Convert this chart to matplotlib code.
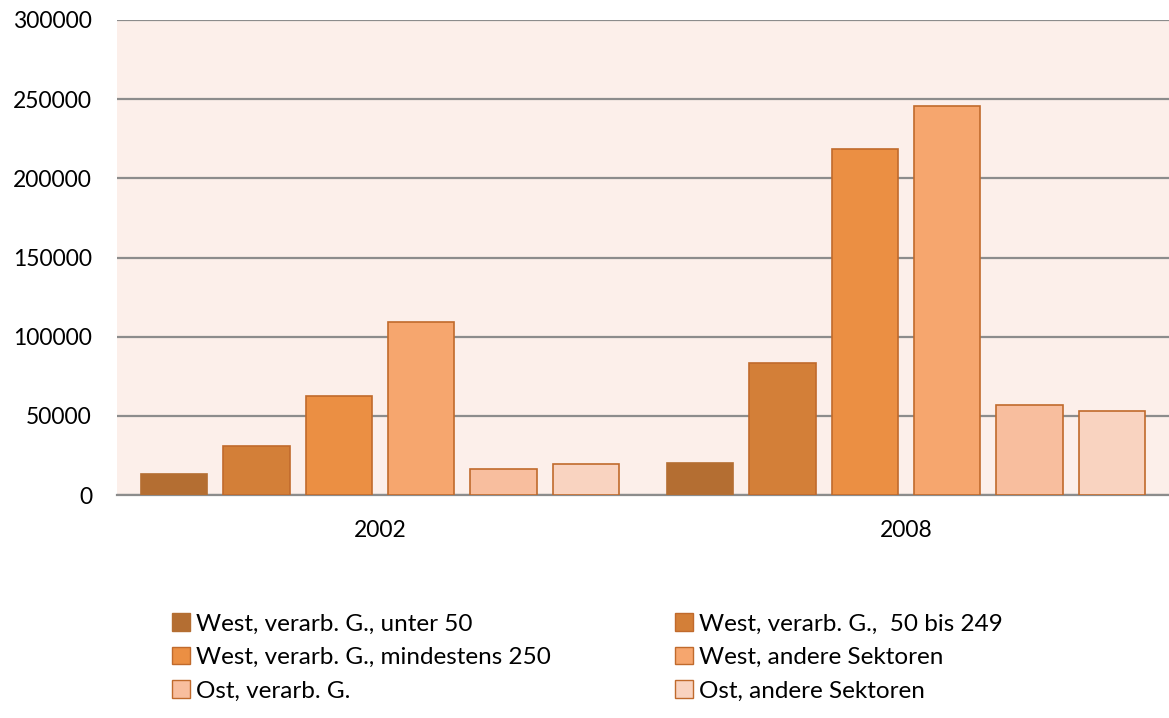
import matplotlib
matplotlib.use("Agg")
import matplotlib.pyplot as plt
from matplotlib.patches import Patch
import numpy as np

plt.rcParams['font.family'] = ['Lato', 'DejaVu Sans']

years = ["2002", "2008"]
series = [
    "West, verarb. G., unter 50",
    "West, verarb. G.,  50 bis 249",
    "West, verarb. G., mindestens 250",
    "West, andere Sektoren",
    "Ost, verarb. G.",
    "Ost, andere Sektoren",
]
values_2002 = [13000, 31000, 62500, 109000, 16500, 19800]
values_2008 = [20200, 83400, 218500, 246000, 57000, 53000]
yticks = [0, 50000, 100000, 150000, 200000, 250000, 300000]

colors = ["#B46E32", "#D37F38", "#EB8F43", "#F6A66E", "#F8BE9E", "#F9D3C0"]
edge = "#C06A2C"

fig = plt.figure(figsize=(11.69, 7.18), dpi=100)
ax = fig.add_axes([117/1169, 1 - 495/718, 1 - 117/1169, (495-20)/718])
ax.set_facecolor("#FCEFEA")

data = np.array([values_2002, values_2008])
x = np.arange(len(years))
pitch = 0.1567
width = 0.126
handles = []
for i, name in enumerate(series):
    pos = x + (i - 2.5) * pitch
    ax.bar(pos, data[:, i], width=width, color=colors[i], edgecolor=edge if i > 0 else colors[i],
           linewidth=1.2, zorder=3)
    handles.append(Patch(facecolor=colors[i], edgecolor=edge if i > 0 else colors[i], linewidth=1.0, label=name))

ax.set_xlim(-0.5, 1.5)
ax.set_ylim(0, 300000)
ax.set_yticks(yticks)
ax.set_yticklabels([str(v) for v in yticks])
ax.set_xticks(x)
ax.set_xticklabels(years)
ax.yaxis.grid(True, color="#8C8C8C", linewidth=1.6, zorder=1)
ax.set_axisbelow(True)
for s in ["left", "right", "top"]:
    ax.spines[s].set_visible(False)
ax.spines["bottom"].set_color("#8C8C8C")
ax.spines["bottom"].set_linewidth(1.6)
ax.tick_params(axis="y", length=0, pad=18, labelsize=16.5, colors="#000000")
ax.tick_params(axis="x", length=0, pad=18, labelsize=16.5, colors="#000000")

order = [0, 2, 4, 1, 3, 5]
leg = fig.legend([handles[k] for k in order], [series[k] for k in order],
                 ncol=2, loc="upper left", bbox_to_anchor=(172/1169, 1 - 613/718),
                 frameon=False, fontsize=17.5, handlelength=0.75, handleheight=0.75,
                 handletextpad=0.25, labelspacing=0.5, columnspacing=5.1,
                 borderaxespad=0, borderpad=0)

fig.savefig("out.png", dpi=100)
